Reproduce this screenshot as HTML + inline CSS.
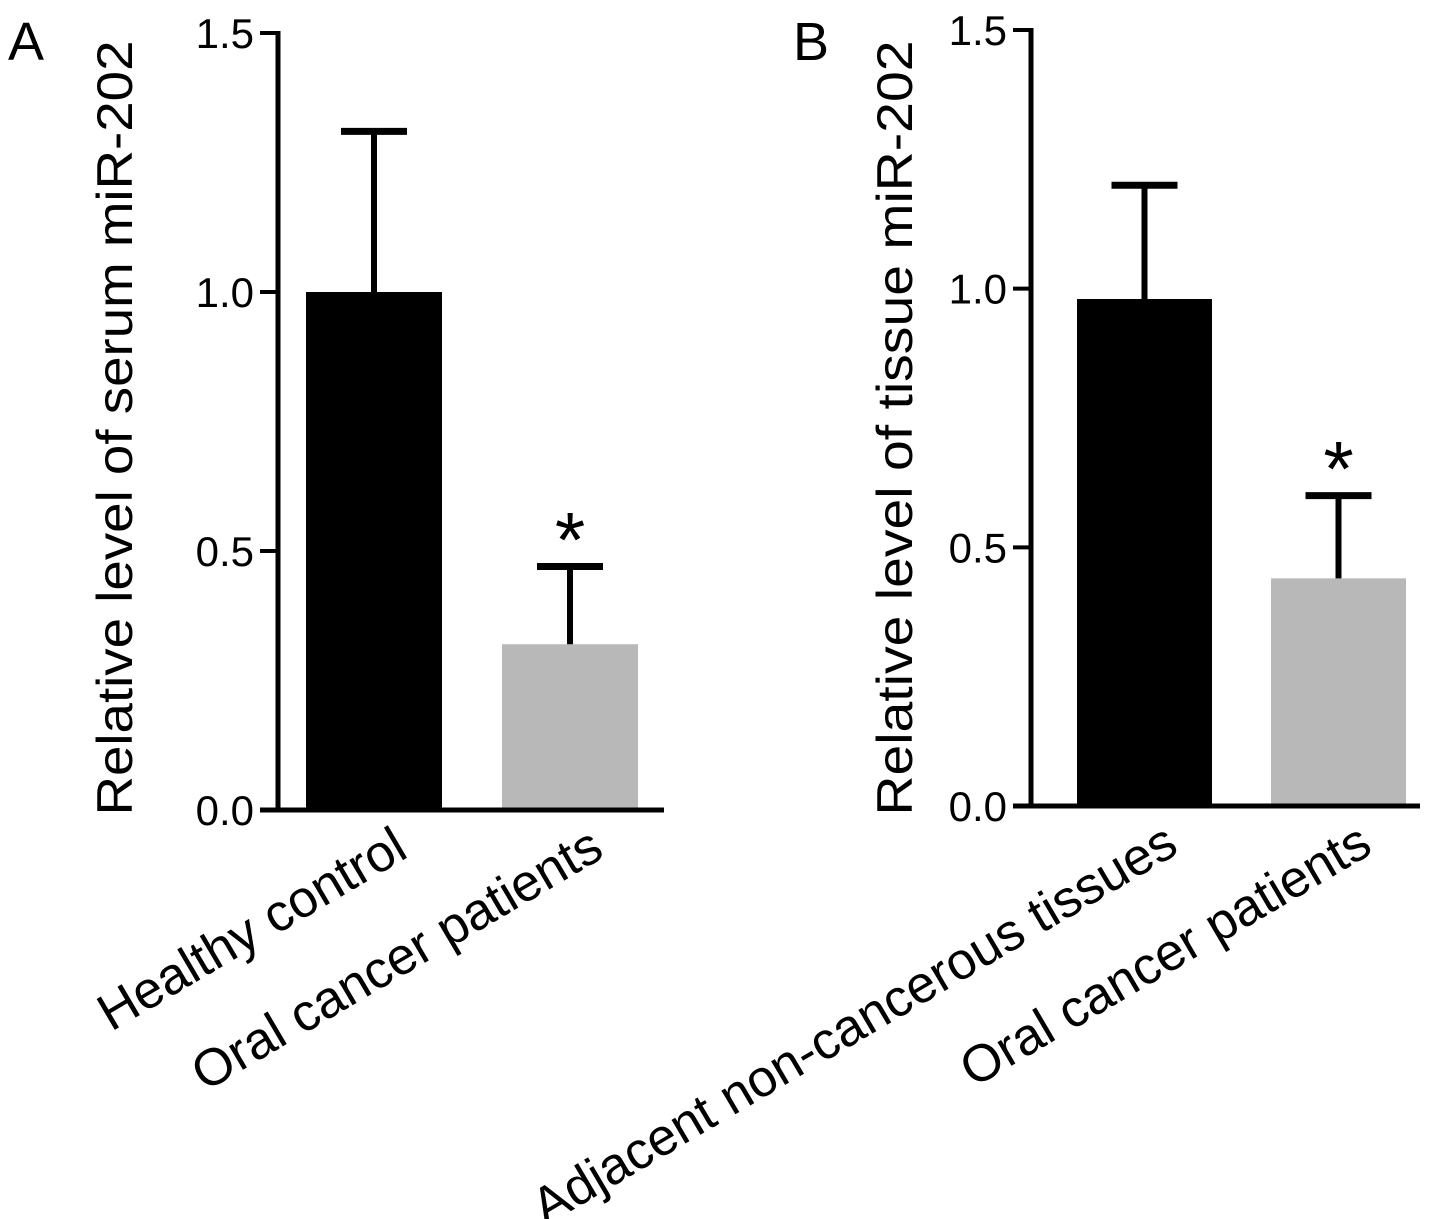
<!DOCTYPE html>
<html><head><meta charset="utf-8"><style>
html,body{margin:0;padding:0;background:#fff;}
svg{display:block;font-family:"Liberation Sans",Arial,sans-serif;}
</style></head><body>
<svg id="chart" width="1441" height="1219" viewBox="0 0 1441 1219"></svg>
<script>
const panelLabels = ["A", "B"];
const yTitles = ["Relative level of serum miR-202", "Relative level of tissue miR-202"];
const categoriesA = ["Healthy control", "Oral cancer patients"];
const categoriesB = ["Adjacent non-cancerous tissues", "Oral cancer patients"];
const valuesA = [1.0, 0.32];
const errorsA = [0.31, 0.15];
const valuesB = [0.98, 0.44];
const errorsB = [0.22, 0.16];
const sigA = [false, true];
const sigB = [false, true];
const yTicks = [0.0, 0.5, 1.0, 1.5];
const yTickLabels = ["0.0", "0.5", "1.0", "1.5"];

const NS = "http://www.w3.org/2000/svg";
const svg = document.getElementById("chart");
function mk(tag, attrs, parent) {
  const e = document.createElementNS(NS, tag);
  for (const k in attrs) e.setAttribute(k, attrs[k]);
  (parent || svg).appendChild(e);
  return e;
}

function panel(cfg) {
  const g = mk("g", {});
  
  
  const y = v => cfg.y0 - (v / 1.5) * (cfg.y0 - cfg.y15);
  const barX = i => cfg.barStart + i * cfg.barStep;
  const pl = mk("text", {x: cfg.labelX, y: 60, "font-size": 54}, g);
  pl.textContent = cfg.label;
  
  
  const yt = mk("text", {x: 0, y: 0, "font-size": 50, "text-anchor": "middle",
    textLength: 775, lengthAdjust: "spacingAndGlyphs",
    transform: `translate(${cfg.titleX},428) rotate(-90)`}, g);
  yt.textContent = cfg.title;
  
  
  cfg.values.forEach((v, i) => {
    const x = barX(i);
    const r = mk("rect", {x: x, y: y(v), width: cfg.barW, height: cfg.y0 - y(v),
      fill: i === 0 ? "#000" : "#b8b8b8"}, g);
    
    
    const cx = x + cfg.barW / 2;
    const top = y(v + cfg.errors[i]);
    const el = mk("line", {x1: cx, x2: cx, y1: y(v), y2: top, stroke: "#000", "stroke-width": 6}, g);
    
    
    const cap = mk("line", {x1: cx - 33, x2: cx + 33, y1: top, y2: top, stroke: "#000", "stroke-width": 7}, g);
    
    
    if (cfg.sig[i]) {
      const s = mk("text", {x: cx, y: top, "font-size": 78, "text-anchor": "middle"}, g);
      s.textContent = "*";
      
      
    }
    const lab = mk("text", {x: 0, y: 0, "font-size": 52, "text-anchor": "end",
      transform: `translate(${cx + 36},${cfg.y0 + 46}) rotate(-30.5)`}, g);
    lab.textContent = cfg.cats[i];
    
    
  });
  const ya = mk("line", {x1: cfg.axisX, x2: cfg.axisX, y1: cfg.y15 - 2, y2: cfg.y0 + 2, stroke: "#000", "stroke-width": 5}, g);
  
  
  const xa = mk("line", {x1: cfg.axisX - 18, x2: cfg.xEnd, y1: cfg.y0, y2: cfg.y0, stroke: "#000", "stroke-width": 5}, g);
  
  
  yTicks.forEach((t, i) => {
    const tk = mk("line", {x1: cfg.axisX - 18, x2: cfg.axisX, y1: y(t), y2: y(t), stroke: "#000", "stroke-width": 4}, g);
    
    
    const tl = mk("text", {x: cfg.axisX - 24, y: y(t) + 15, "font-size": 42, "text-anchor": "end"}, g);
    tl.textContent = yTickLabels[i];
    
    
  });
}

panel({name: "panel-a", label: panelLabels[0], labelX: 8, title: yTitles[0], titleX: 132, axisX: 278, y0: 810, y15: 33,
  xEnd: 664, barStart: 306, barStep: 196, barW: 136, values: valuesA, errors: errorsA, sig: sigA, cats: categoriesA});
panel({name: "panel-b", label: panelLabels[1], labelX: 793, title: yTitles[1], titleX: 912, axisX: 1031, y0: 806, y15: 30,
  xEnd: 1420, barStart: 1077, barStep: 194, barW: 135, values: valuesB, errors: errorsB, sig: sigB, cats: categoriesB});
</script>
</body></html>
